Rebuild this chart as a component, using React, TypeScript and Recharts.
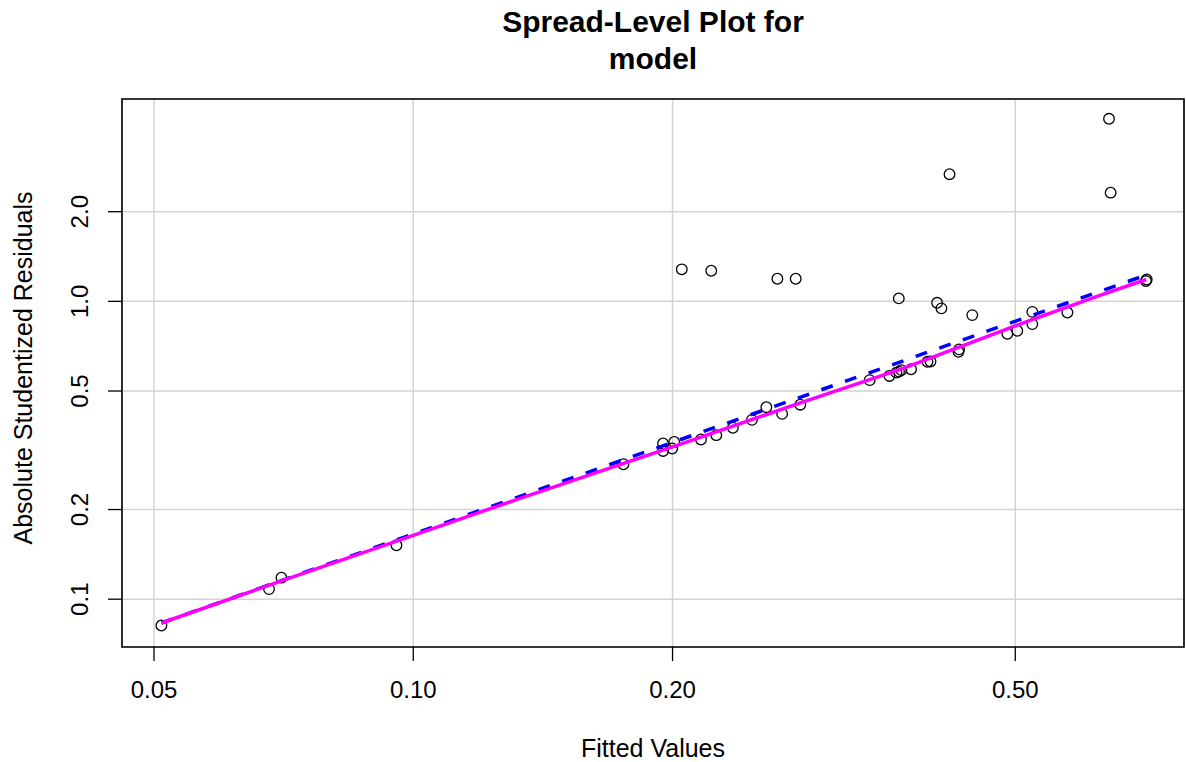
import React from 'react';
import { ScatterChart, Scatter, XAxis, YAxis, CartesianGrid, ReferenceArea } from 'recharts';

// Fitted values (x) and absolute studentized residuals (y)
const fittedValues = [
  0.051, 0.068, 0.0703, 0.0956, 0.1754, 0.195, 0.195, 0.1998, 0.2009, 0.205,
  0.2158, 0.2218, 0.2248, 0.235, 0.2473, 0.257, 0.2647, 0.2681, 0.278, 0.2814,
  0.3388, 0.3571, 0.3639, 0.3662, 0.3664, 0.3688, 0.3784, 0.3954, 0.3986, 0.4057,
  0.4104, 0.4194, 0.4295, 0.4302, 0.4457, 0.4895, 0.5027, 0.5233, 0.5233, 0.5748,
  0.6424, 0.6452, 0.709, 0.7105,
];
const absResiduals = [
  0.0816, 0.1081, 0.1181, 0.1517, 0.2838, 0.3332, 0.3146, 0.3206, 0.3373, 1.281,
  0.3437, 1.267, 0.3554, 0.3764, 0.3999, 0.4412, 1.191, 0.419, 1.191, 0.4498,
  0.5439, 0.5618, 0.5763, 1.023, 0.5808, 0.5876, 0.5913, 0.6266, 0.6285, 0.989,
  0.9473, 2.673, 0.677, 0.69, 0.8992, 0.778, 0.7966, 0.8388, 0.9219, 0.917,
  4.101, 2.317, 1.17, 1.184,
];

// lowess smoother (magenta)
const smoothX = [0.051, 0.0703, 0.1, 0.1318, 0.2, 0.2814, 0.3684, 0.5233, 0.6282, 0.7096];
const smoothY = [0.0832, 0.1152, 0.1639, 0.216, 0.3245, 0.4561, 0.5922, 0.8687, 1.05, 1.184];

// robust fit line (blue dashed)
const fitX = [0.051, 0.7096];
const fitY = [0.0832, 1.226];

const xTicks = [0.05, 0.1, 0.2, 0.5];
const yTicks = [0.1, 0.2, 0.5, 1.0, 2.0];
const X_DOMAIN = [0.0459, 0.785];
const Y_DOMAIN = [0.0691, 4.78];

const points = fittedValues.map((x, i) => ({ x, y: absResiduals[i] }));
const smooth = smoothX.map((x, i) => ({ x, y: smoothY[i] }));
const fit = fitX.map((x, i) => ({ x, y: fitY[i] }));

const FONT = '"Liberation Sans", Arial, sans-serif';

const OpenCircle = (props: any) => (
  <circle cx={props.cx} cy={props.cy} r={5.3} fill="none" stroke="#000" strokeWidth={1.3} />
);
const NoShape = () => <g />;

const XTick = (props: any) => (
  <text x={props.x} y={props.y + 37} textAnchor="middle" fontSize={24} fill="#000" fontFamily={FONT}>
    {Number(props.payload.value).toFixed(2)}
  </text>
);

const YTick = (props: any) => (
  <text
    transform={`translate(${props.x - 20},${props.y}) rotate(-90)`}
    textAnchor="middle"
    fontSize={24}
    fill="#000"
    fontFamily={FONT}
  >
    {Number(props.payload.value).toFixed(1)}
  </text>
);

export default function App() {
  return (
    <div style={{ position: 'absolute', left: 0, top: 0, width: 1186, height: 762, background: '#fff' }}>
      <div
        style={{
          position: 'absolute',
          left: 403,
          top: 3,
          width: 500,
          textAlign: 'center',
          fontFamily: FONT,
          fontWeight: 'bold',
          fontSize: 30,
          lineHeight: '37px',
          color: '#000',
        }}
      >
        Spread-Level Plot for
        <br />
        model
      </div>
      <ScatterChart width={1186} height={762} margin={{ top: 99, right: 2, bottom: 0, left: 0 }}>
        <CartesianGrid stroke="#D3D3D3" strokeWidth={1.5} />
        <XAxis
          type="number"
          dataKey="x"
          scale="log"
          domain={X_DOMAIN}
          allowDataOverflow
          ticks={xTicks}
          tick={<XTick />}
          tickSize={14}
          tickMargin={0}
          tickLine={{ stroke: '#000', strokeWidth: 1.3 }}
          axisLine={false}
          height={115}
          label={() => (
            <text x={653} y={757} textAnchor="middle" fontSize={25} fill="#000" fontFamily={FONT}>
              Fitted Values
            </text>
          )}
        />
        <YAxis
          type="number"
          dataKey="y"
          scale="log"
          domain={Y_DOMAIN}
          allowDataOverflow
          ticks={yTicks}
          tick={<YTick />}
          tickSize={14}
          tickMargin={0}
          tickLine={{ stroke: '#000', strokeWidth: 1.3 }}
          axisLine={false}
          width={122}
          label={() => (
            <text
              transform="translate(32,368) rotate(-90)"
              textAnchor="middle"
              fontSize={25}
              fill="#000"
              fontFamily={FONT}
            >
              Absolute Studentized Residuals
            </text>
          )}
        />
        <ReferenceArea
          x1={X_DOMAIN[0]}
          x2={X_DOMAIN[1]}
          y1={Y_DOMAIN[0]}
          y2={Y_DOMAIN[1]}
          fill="none"
          fillOpacity={0}
          stroke="#000"
          strokeWidth={1.6}
          ifOverflow="visible"
        />
        <Scatter
          data={points}
          shape={<OpenCircle />}
          isAnimationActive={false}
        />
        <Scatter
          data={fit}
          shape={<NoShape />}
          line={{ stroke: '#0000FF', strokeWidth: 3.5, strokeDasharray: '12 13' }}
          isAnimationActive={false}
        />
        <Scatter
          data={smooth}
          shape={<NoShape />}
          line={{ stroke: '#FF00FF', strokeWidth: 3.5 }}
          isAnimationActive={false}
        />
      </ScatterChart>
    </div>
  );
}
